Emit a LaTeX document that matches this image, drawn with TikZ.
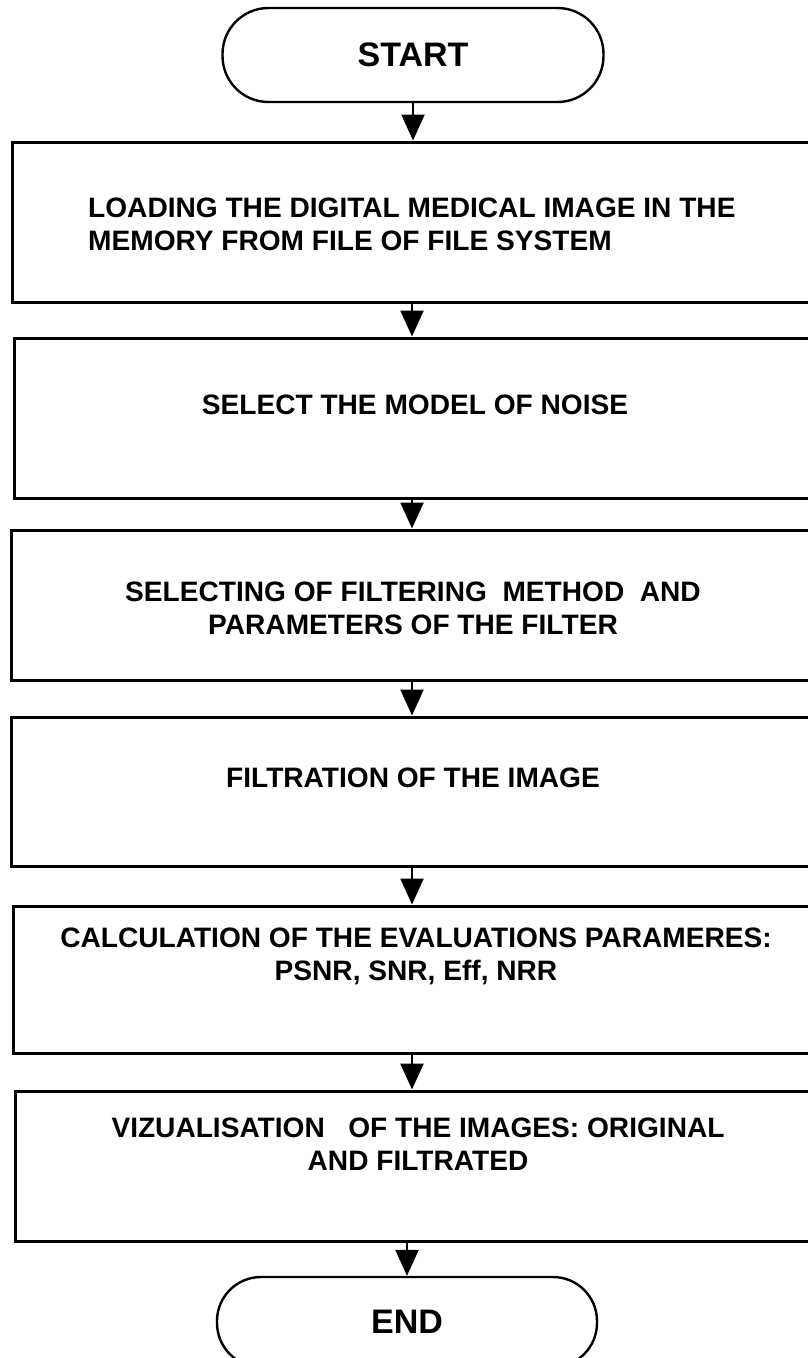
\documentclass[tikz,border=0pt]{standalone}
\usepackage{fontspec}
\setmainfont{Liberation Sans}
\usetikzlibrary{arrows.meta}
\begin{document}
\begin{tikzpicture}[x=1pt,y=-1pt,
  stepbox/.style={draw, line width=3pt, rectangle, inner sep=0pt},
  term/.style={draw, line width=2.4pt, rectangle, rounded corners=46pt,
    minimum width=381pt, minimum height=94pt, inner sep=0pt,
    font=\fontsize{34}{40}\selectfont\bfseries},
  boxtext/.style={font=\fontsize{28.1}{33}\selectfont\bfseries, align=center, inner sep=0pt},
  flow/.style={line width=2.5pt, -{Triangle[length=26pt,width=23pt]}}]
\useasboundingbox (0,0) rectangle (807,1358);

% terminals
\node[term] (s) at (413,55) {START};
\node[term, minimum width=380pt, minimum height=90pt, rounded corners=44pt] (e) at (407,1322) {END};

% process boxes (they run past the right edge of the page)
\node[stepbox, minimum width=828pt, minimum height=160pt] (b1) at (426,222) {};
\node[stepbox, minimum width=826pt, minimum height=160pt] (b2) at (427,418) {};
\node[stepbox, minimum width=829pt, minimum height=150pt] (b3) at (425.5,605) {};
\node[stepbox, minimum width=829pt, minimum height=149pt] (b4) at (425.5,791.5) {};
\node[stepbox, minimum width=827pt, minimum height=147pt] (b5) at (426.5,979.5) {};
\node[stepbox, minimum width=825pt, minimum height=150pt] (b6) at (427.5,1166) {};

% box texts
\node[boxtext, align=left, anchor=west] (t1) at (88,224)
  {LOADING THE DIGITAL MEDICAL IMAGE IN THE\\MEMORY FROM FILE OF FILE SYSTEM};
\node[boxtext] (t2) at (415,405) {SELECT THE MODEL OF NOISE};
\node[boxtext] (t3) at (413,608)
  {SELECTING OF FILTERING\ \ METHOD\ \ AND\\PARAMETERS OF THE FILTER};
\node[boxtext] (t4) at (413,778) {FILTRATION OF THE IMAGE};
\node[boxtext] (t5) at (416,956)
  {CALCULATION OF THE EVALUATIONS PARAMERES:\\PSNR, SNR, Eff, NRR};
\node[boxtext] (t6) at (418,1144)
  {VIZUALISATION\ \ \ OF THE IMAGES: ORIGINAL\\AND FILTRATED};

% flow axis
\coordinate (ax) at (412,0);

% connectors
\draw[flow] (s.south) -- (b1.north -| s.south);
\draw[flow] (b1.south -| ax) -- (b2.north -| ax);
\draw[flow] (b2.south -| ax) -- (b3.north -| ax);
\draw[flow] (b3.south -| ax) -- (b4.north -| ax);
\draw[flow] (b4.south -| ax) -- (b5.north -| ax);
\draw[flow] (b5.south -| ax) -- (b6.north -| ax);
\draw[flow] (b6.south -| e.north) -- (e.north);
\end{tikzpicture}
\end{document}
